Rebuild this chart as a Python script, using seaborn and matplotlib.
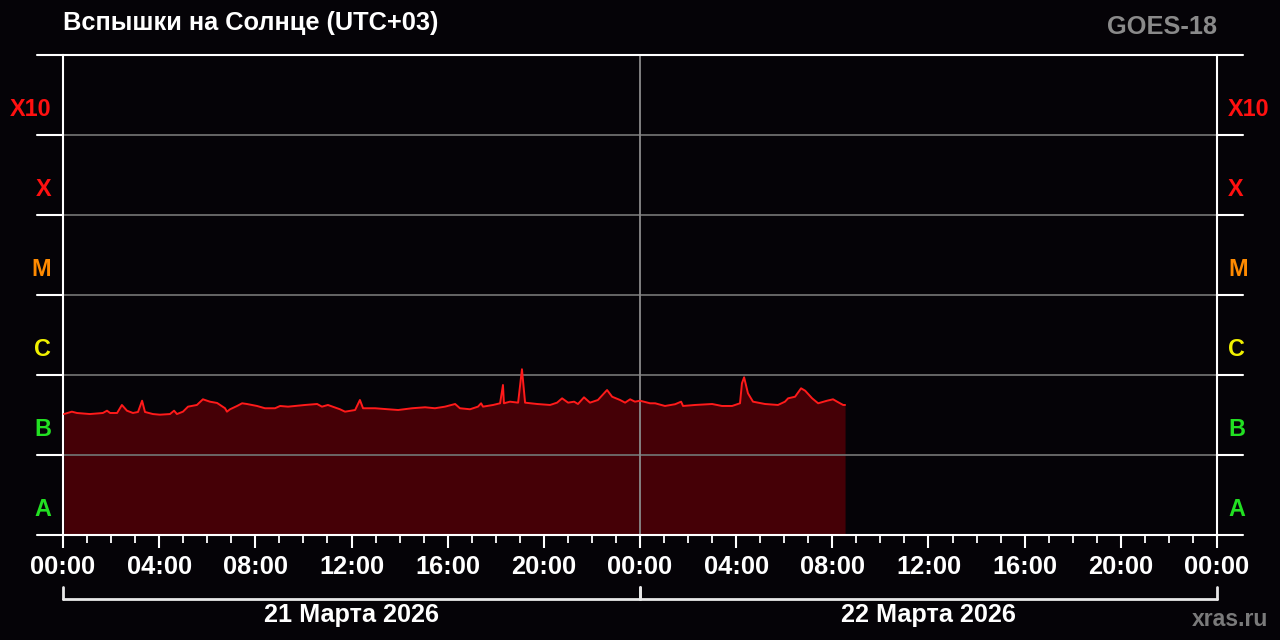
#!/usr/bin/env python3
"""
GOES-18 X-ray flux chart (xras.ru style) for 21-22 March 2026
"""

import numpy as np
import pandas as pd
import matplotlib
matplotlib.use("Agg")
import matplotlib.pyplot as plt
import matplotlib.transforms as mtransforms
import seaborn as sns

# Data: hours since 21 March 00:00 (UTC+03), flux in B-class units (1e-7 W/m2)
hours = [0.04, 0.37, 0.58, 1.12, 1.66, 1.83, 1.96, 2.25, 2.45, 2.66, 2.91, 3.12,
         3.29, 3.41, 3.74, 4.03, 4.45, 4.62, 4.74, 4.99, 5.20, 5.57, 5.82, 6.11,
         6.41, 6.74, 6.82, 6.95, 7.24, 7.45, 7.65, 8.07, 8.40, 8.82, 9.03, 9.36,
         10.07, 10.57, 10.77, 11.02, 11.52, 11.73, 12.15, 12.35, 12.48, 12.98,
         13.52, 13.94, 14.52, 15.06, 15.47, 15.89, 16.31, 16.51, 16.93, 17.26,
         17.39, 17.47, 17.89, 18.18, 18.30, 18.34, 18.59, 18.93, 19.09, 19.22,
         19.72, 20.26, 20.55, 20.76, 21.01, 21.26, 21.42, 21.67, 21.92, 22.25,
         22.63, 22.84, 23.17, 23.38, 23.59, 23.79, 24.00, 24.42, 24.63, 25.04,
         25.46, 25.71, 25.79, 26.29, 27.00, 27.41, 27.83, 28.16, 28.24, 28.33,
         28.49, 28.70, 29.20, 29.74, 30.03, 30.16, 30.45, 30.70, 30.87, 31.16,
         31.41, 31.78, 32.03, 32.20, 32.45, 32.53]
flux_b = [3.25, 3.48, 3.35, 3.25, 3.35, 3.58, 3.35, 3.35, 4.22, 3.58, 3.35, 3.45,
          4.77, 3.45, 3.25, 3.19, 3.25, 3.58, 3.25, 3.48, 4.02, 4.22, 4.97, 4.64,
          4.47, 3.84, 3.48, 3.73, 4.10, 4.43, 4.34, 4.10, 3.84, 3.84, 4.10, 4.02,
          4.22, 4.34, 4.02, 4.22, 3.73, 3.48, 3.65, 4.87, 3.84, 3.84,
          3.73, 3.65, 3.84, 3.95, 3.84, 4.02, 4.34, 3.84, 3.73, 4.02,
          4.43, 4.02, 4.22, 4.43, 7.50, 4.43, 4.64, 4.51, 11.8, 4.51,
          4.34, 4.22, 4.51, 5.11, 4.51, 4.64, 4.34, 5.26, 4.51, 4.87,
          6.49, 5.35, 4.87, 4.51, 4.97, 4.64, 4.77, 4.43, 4.43, 4.10,
          4.31, 4.64, 4.10, 4.22, 4.34, 4.10, 4.10, 4.43, 7.87, 9.36,
          5.91, 4.64, 4.34, 4.22, 4.64, 5.11, 5.35, 6.82, 6.36, 5.11,
          4.43, 4.77, 4.97, 4.64, 4.22, 4.22]

class_labels = ["A", "B", "C", "M", "X", "X10"]
class_bottoms = [1e-8, 1e-7, 1e-6, 1e-5, 1e-4, 1e-3]
class_colors = ["#22e022", "#22e022", "#f0f000", "#ff8a00", "#ff1010", "#ff1010"]

tick_hours = list(range(0, 49, 4))
tick_labels = ["00:00", "04:00", "08:00", "12:00", "16:00", "20:00", "00:00",
               "04:00", "08:00", "12:00", "16:00", "20:00", "00:00"]
day_labels = ["21 Марта 2026", "22 Марта 2026"]

bg = "#050307"
sns.set_theme(style="dark", rc={"axes.facecolor": bg, "figure.facecolor": bg,
                                "savefig.facecolor": bg})
plt.rcParams['font.family'] = ['Liberation Sans', 'DejaVu Sans']
plt.rcParams['font.weight'] = 'bold'

df = pd.DataFrame({"hour": hours, "flux": np.array(flux_b) * 1e-7})

fig = plt.figure(figsize=(12.8, 6.4), dpi=100)
ax = fig.add_axes([63 / 1280, 1 - 535 / 640, 1154 / 1280, 480 / 640])

# filled area and flux line
ax.fill_between(df["hour"], 1e-8, df["flux"], color="#450006", lw=0, zorder=1)
sns.lineplot(data=df, x="hour", y="flux", color="#ff1a1a", lw=1.4, ax=ax, zorder=3)

ax.set_yscale("log")
ax.set_ylim(1e-8, 1e-2)
ax.set_xlim(0, 48)
ax.set_xlabel("")
ax.set_ylabel("")
ax.grid(False)

# horizontal class lines
yblend = mtransforms.blended_transform_factory(ax.transAxes, ax.transData)
for v in class_bottoms[1:]:
    ax.axhline(v, color="#6e6e6e", lw=1.3, zorder=2)
    ax.plot([-0.0225, 0], [v, v], color="white", lw=1.5, transform=yblend, clip_on=False)
    ax.plot([1, 1.0225], [v, v], color="white", lw=1.5, transform=yblend, clip_on=False)
for v in [1e-8, 1e-2]:
    ax.plot([-0.0225, 1.0225], [v, v], color="white", lw=1.5, transform=yblend,
            clip_on=False, zorder=4)

# day separator
ax.axvline(24, color="#8a8a8a", lw=1.3, zorder=2)

for side in ["top", "bottom"]:
    ax.spines[side].set_visible(False)
for side in ["left", "right"]:
    ax.spines[side].set_color("white")
    ax.spines[side].set_linewidth(1.5)

# class labels on both sides
for lab, bot, col in zip(class_labels, class_bottoms, class_colors):
    ypos = 10 ** (np.log10(bot) + 0.3125)
    ax.text(-0.0104, ypos, lab, color=col, fontsize=16.8, fontweight="bold",
            ha="right", va="center", transform=yblend)
    ax.text(1.0095, ypos, lab, color=col, fontsize=16.8, fontweight="bold",
            ha="left", va="center", transform=yblend)

# x ticks
ax.set_xticks(tick_hours)
ax.set_xticklabels(tick_labels)
ax.set_xticks(range(0, 49), minor=True)
ax.set_yticks([])
ax.set_yticks([], minor=True)
ax.tick_params(axis="x", which="major", direction="out", length=9.5, width=1.5,
               color="white", pad=5, labelsize=18.3, labelcolor="white", bottom=True)
ax.tick_params(axis="x", which="minor", direction="out", length=5.5, width=1.3,
               color="white", bottom=True)
for t in ax.get_xticklabels():
    t.set_fontweight("bold")

# date brackets
xblend = mtransforms.blended_transform_factory(ax.transData, ax.transAxes)
y_br = (535 - 599) / 480
y_tick = (535 - 587) / 480
for i, lab in enumerate(day_labels):
    x0, x1 = 24 * i, 24 * i + 24
    ax.plot([x0, x1], [y_br, y_br], color="#e8e8e8", lw=2, transform=xblend, clip_on=False)
    ax.plot([x0, x0], [y_tick, y_br], color="#e8e8e8", lw=2, transform=xblend, clip_on=False)
    ax.plot([x1, x1], [y_tick, y_br], color="#e8e8e8", lw=2, transform=xblend, clip_on=False)
    ax.text(x0 + 12, (535 - 615) / 480, lab, color="white", fontsize=18.2,
            fontweight="bold", ha="center", va="center", transform=xblend)

# titles
fig.text(63 / 1280, 1 - 23 / 640, "Вспышки на Солнце (UTC+03)", color="white",
         fontsize=18.3, fontweight="bold", ha="left", va="center")
fig.text(1217 / 1280, 1 - 27 / 640, "GOES-18", color="#8a8a8a",
         fontsize=18.3, fontweight="bold", ha="right", va="center")
fig.text(1268 / 1280, 1 - 619 / 640, "xras.ru", color="#7a7a7a",
         fontsize=16.6, fontweight="bold", ha="right", va="center")

fig.savefig("out.png", dpi=100, facecolor=bg)
plt.close(fig)
